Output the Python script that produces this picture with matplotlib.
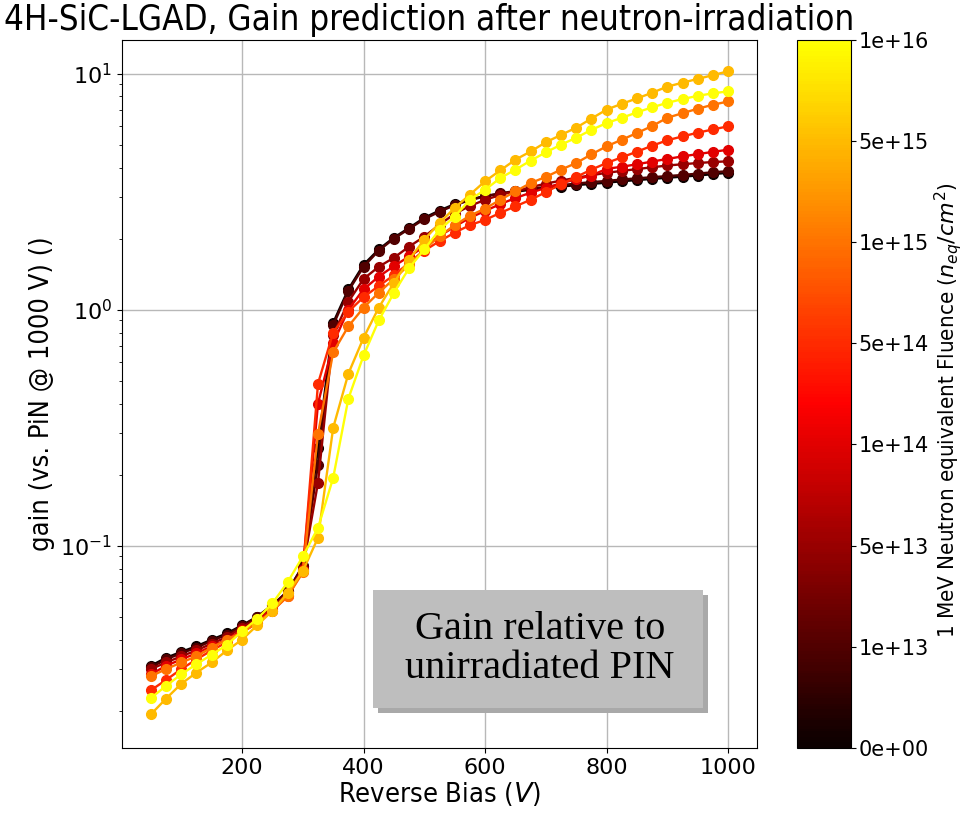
import numpy as np
import matplotlib
matplotlib.use("Agg")
import matplotlib.pyplot as plt
from matplotlib.colors import ListedColormap, Normalize
from matplotlib.cm import ScalarMappable
from matplotlib.patches import Rectangle

bias = list(range(50, 1001, 25))

fluence_labels = ["0e+00", "1e+13", "5e+13", "1e+14", "5e+14", "1e+15", "5e+15", "1e+16"]

gain_0 = [0.031, 0.0335, 0.0355, 0.0375, 0.040, 0.0425, 0.046, 0.050, 0.056, 0.064, 0.082,
          0.26, 0.88, 1.22, 1.55, 1.80, 2.02, 2.22, 2.45, 2.63, 2.80, 2.93, 3.03, 3.10, 3.16,
          3.22, 3.28, 3.32, 3.37, 3.41, 3.45, 3.50, 3.54, 3.58, 3.62, 3.66, 3.70, 3.75, 3.80]
gain_1 = [0.0305, 0.033, 0.035, 0.037, 0.0395, 0.042, 0.0455, 0.050, 0.056, 0.064, 0.082,
          0.22, 0.86, 1.20, 1.52, 1.78, 2.00, 2.20, 2.42, 2.60, 2.77, 2.91, 3.02, 3.11, 3.18,
          3.25, 3.31, 3.37, 3.42, 3.47, 3.51, 3.56, 3.60, 3.64, 3.68, 3.72, 3.77, 3.82, 3.86]
gain_2 = [0.030, 0.032, 0.034, 0.036, 0.0385, 0.041, 0.045, 0.049, 0.055, 0.063, 0.080,
          0.185, 0.78, 1.08, 1.35, 1.52, 1.66, 1.85, 2.04, 2.29, 2.55, 2.75, 2.92, 3.06, 3.18,
          3.30, 3.42, 3.52, 3.62, 3.71, 3.80, 3.87, 3.94, 4.01, 4.08, 4.13, 4.18, 4.22, 4.25]
gain_3 = [0.0285, 0.031, 0.033, 0.035, 0.0375, 0.040, 0.044, 0.048, 0.054, 0.062, 0.079,
          0.40, 0.72, 1.00, 1.22, 1.38, 1.53, 1.68, 1.85, 2.05, 2.25, 2.45, 2.62, 2.80, 2.97,
          3.13, 3.28, 3.43, 3.57, 3.70, 3.95, 4.03, 4.13, 4.24, 4.35, 4.46, 4.56, 4.66, 4.76]
gain_4 = [0.0244, 0.027, 0.030, 0.033, 0.036, 0.039, 0.043, 0.047, 0.053, 0.061, 0.078,
          0.486, 0.80, 0.98, 1.13, 1.26, 1.40, 1.58, 1.78, 1.95, 2.12, 2.28, 2.40, 2.57, 2.74,
          2.92, 3.15, 3.40, 3.65, 3.92, 4.18, 4.42, 4.67, 4.95, 5.22, 5.42, 5.62, 5.80, 5.98]
gain_5 = [0.028, 0.030, 0.032, 0.034, 0.037, 0.040, 0.043, 0.047, 0.053, 0.061, 0.077,
          0.298, 0.66, 0.85, 1.02, 1.18, 1.35, 1.55, 1.80, 2.05, 2.28, 2.50, 2.68, 2.92, 3.17,
          3.44, 3.65, 3.92, 4.18, 4.55, 4.92, 5.25, 5.60, 6.00, 6.50, 6.80, 7.10, 7.38, 7.62]
gain_6 = [0.0193, 0.0225, 0.026, 0.029, 0.032, 0.036, 0.040, 0.046, 0.053, 0.063, 0.078,
          0.108, 0.316, 0.536, 0.76, 1.02, 1.30, 1.63, 1.98, 2.33, 2.70, 3.07, 3.50, 3.89, 4.32,
          4.68, 5.12, 5.50, 5.90, 6.45, 7.04, 7.45, 7.85, 8.30, 8.81, 9.15, 9.50, 9.85, 10.23]
gain_7 = [0.0226, 0.0255, 0.0285, 0.0315, 0.0345, 0.038, 0.0434, 0.049, 0.057, 0.070, 0.090,
          0.119, 0.194, 0.42, 0.64, 0.90, 1.18, 1.50, 1.80, 2.18, 2.48, 2.92, 3.22, 3.61, 3.92,
          4.28, 4.64, 5.00, 5.35, 5.78, 6.17, 6.50, 6.85, 7.20, 7.52, 7.80, 8.05, 8.25, 8.41]

gains = [gain_0, gain_1, gain_2, gain_3, gain_4, gain_5, gain_6, gain_7]

hot = plt.get_cmap("hot")
cmap = ListedColormap(hot(np.linspace(0.0, 0.75, 256)))
norm = Normalize(vmin=0, vmax=len(gains) - 1)

fig = plt.figure(figsize=(9.64, 8.13), dpi=100)
ax = fig.add_axes([0.1266, 0.080, 0.6587, 0.871])
cax = fig.add_axes([0.8268, 0.080, 0.056, 0.871])

for i, g in enumerate(gains):
    ax.plot(bias, g, marker="o", markersize=7, linewidth=1.7, color=cmap(norm(i)))

ax.set_yscale("log")
ax.set_ylim(0.0139, 13.9)
ax.grid(True, which="major", color="#b8b8b8", linewidth=1.0)
ax.set_axisbelow(True)
ax.tick_params(axis="both", labelsize=16)

cond = dict(family="DejaVu Sans", stretch="condensed")
ax.set_xlabel("Reverse Bias ($V$)", fontdict=dict(cond, size=19.5), labelpad=2)
ax.set_ylabel("gain (vs. PiN @ 1000 V) ()", fontdict=dict(cond, size=19.5), labelpad=4)
fig.text(429 / 964, 1 - 20 / 813, "4H-SiC-LGAD, Gain prediction after neutron-irradiation",
         ha="center", va="center", fontdict=dict(cond, size=25))

sm = ScalarMappable(norm=norm, cmap=cmap)
cb = fig.colorbar(sm, cax=cax, ticks=list(range(len(fluence_labels))))
cb.ax.set_yticklabels(fluence_labels)
cb.ax.tick_params(labelsize=15, pad=2)
fig.text(948 / 964, 1 - 410 / 813, "1 MeV Neutron equivalent Fluence ($n_{eq}/cm^2$)",
         rotation=90, ha="center", va="center", fontdict=dict(cond, size=16))

# annotation box with shadow (figure pixel coords converted to fractions)
W, H = 964.0, 813.0
bx0, by0, bx1, by1 = 373, 590, 703, 708
fig.patches.append(Rectangle(((bx0 + 5) / W, 1 - (by1 + 5) / H), (bx1 - bx0) / W, (by1 - by0) / H,
                             transform=fig.transFigure, facecolor="#a9a9a9", edgecolor="none", zorder=5))
fig.patches.append(Rectangle((bx0 / W, 1 - by1 / H), (bx1 - bx0) / W, (by1 - by0) / H,
                             transform=fig.transFigure, facecolor="#bebebe", edgecolor="none", zorder=6))
fig.text((bx0 + bx1) / 2 / W + 0.002, 1 - (by0 + by1) / 2 / H, "Gain relative to\nunirradiated PIN",
         ha="center", va="center", fontsize=29, family="Liberation Serif", linespacing=1.05, zorder=7)

fig.savefig("out.png", dpi=100)
